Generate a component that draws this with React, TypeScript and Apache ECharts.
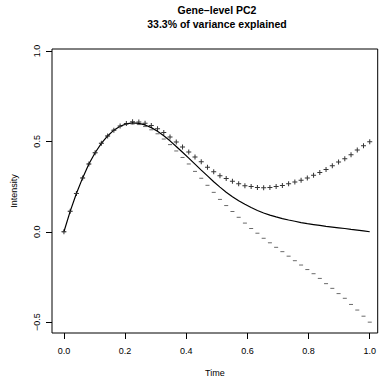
import React, { useEffect, useRef } from "react";
import * as echarts from "echarts";

const times = [0, 0.0204, 0.0408, 0.0612, 0.0816, 0.102, 0.1224, 0.1429, 0.1633, 0.1837, 0.2041, 0.2245, 0.2449, 0.2653, 0.2857, 0.3061, 0.3265, 0.3469, 0.3673, 0.3878, 0.4082, 0.4286, 0.449, 0.4694, 0.4898, 0.5102, 0.5306, 0.551, 0.5714, 0.5918, 0.6122, 0.6327, 0.6531, 0.6735, 0.6939, 0.7143, 0.7347, 0.7551, 0.7755, 0.7959, 0.8163, 0.8367, 0.8571, 0.8776, 0.898, 0.9184, 0.9388, 0.9592, 0.9796, 1.0];

const meanCurve = [0, 0.113, 0.212, 0.298, 0.375, 0.437, 0.489, 0.53, 0.562, 0.584, 0.597, 0.602, 0.6, 0.591, 0.576, 0.556, 0.531, 0.503, 0.472, 0.44, 0.407, 0.374, 0.341, 0.309, 0.277, 0.247, 0.219, 0.194, 0.172, 0.152, 0.134, 0.118, 0.104, 0.092, 0.082, 0.073, 0.065, 0.058, 0.051, 0.045, 0.04, 0.035, 0.03, 0.026, 0.022, 0.018, 0.013, 0.009, 0.005, 0.0];

const plusCurve = [0, 0.113, 0.212, 0.298, 0.375, 0.437, 0.489, 0.53, 0.562, 0.585, 0.599, 0.608, 0.607, 0.6, 0.588, 0.57, 0.549, 0.524, 0.497, 0.469, 0.441, 0.414, 0.387, 0.357, 0.332, 0.31, 0.294, 0.279, 0.266, 0.255, 0.25, 0.245, 0.244, 0.245, 0.25, 0.256, 0.265, 0.275, 0.285, 0.298, 0.312, 0.328, 0.344, 0.365, 0.386, 0.404, 0.426, 0.452, 0.476, 0.498];

const minusCurve = [0, 0.113, 0.212, 0.298, 0.375, 0.437, 0.489, 0.53, 0.562, 0.583, 0.595, 0.596, 0.593, 0.582, 0.564, 0.542, 0.513, 0.482, 0.447, 0.411, 0.375, 0.334, 0.296, 0.257, 0.218, 0.179, 0.145, 0.112, 0.08, 0.048, 0.018, -0.008, -0.036, -0.061, -0.086, -0.11, -0.135, -0.16, -0.184, -0.209, -0.232, -0.258, -0.287, -0.313, -0.342, -0.368, -0.402, -0.433, -0.467, -0.5];

const xTicks = [0, 0.2, 0.4, 0.6, 0.8, 1.0];
const yTicks = [-0.5, 0, 0.5, 1.0];

const titleLines = ["Gene\u2013level PC2", "33.3% of variance explained"];
const xName = "Time";
const yName = "Intensity";

const FONT = "'Liberation Sans', Arial, Helvetica, sans-serif";

const fmt = (v: number) => {
  const s = Number(v).toFixed(1);
  return s.startsWith("-") ? "\u2212" + s.slice(1) : s;
};

export default function App() {
  const ref = useRef<HTMLDivElement>(null);
  useEffect(() => {
    if (!ref.current) return;
    const chart = echarts.init(ref.current, null, { renderer: "svg" });
    const option: any = {
      animation: false,
      backgroundColor: "#ffffff",
      textStyle: { fontFamily: FONT },
      graphic: [
        {
          type: "text",
          x: 217,
          y: 10,
          style: {
            text: titleLines[0],
            fontFamily: FONT,
            fontSize: 10.5,
            fontWeight: "bold",
            fill: "#000",
            textAlign: "center",
            textVerticalAlign: "middle",
          },
        },
        {
          type: "text",
          x: 217,
          y: 24,
          style: {
            text: titleLines[1],
            fontFamily: FONT,
            fontSize: 10.5,
            fontWeight: "bold",
            fill: "#000",
            textAlign: "center",
            textVerticalAlign: "middle",
          },
        },
      ],
      grid: {
        left: 52,
        top: 49,
        right: 0,
        bottom: 46,
        containLabel: false,
        show: true,
        borderColor: "#000",
        borderWidth: 1,
        backgroundColor: "transparent",
      },
      xAxis: {
        type: "value",
        position: "bottom",
        min: -0.039,
        max: 1.026,
        name: xName,
        nameLocation: "middle",
        nameGap: 35,
        nameTextStyle: { fontFamily: FONT, fontSize: 9, color: "#000" },
        axisLine: { show: false, onZero: false },
        splitLine: { show: false },
        axisTick: {
          show: true,
          length: 6,
          customValues: xTicks,
          lineStyle: { color: "#000", width: 1 },
        },
        axisLabel: {
          customValues: xTicks,
          formatter: fmt,
          fontFamily: FONT,
          fontSize: 9,
          color: "#000",
          margin: 13,
        },
      },
      yAxis: {
        type: "value",
        position: "left",
        min: -0.56,
        max: 1.011,
        name: yName,
        nameLocation: "middle",
        nameGap: 34,
        nameRotate: 90,
        nameTextStyle: { fontFamily: FONT, fontSize: 9, color: "#000" },
        axisLine: { show: false, onZero: false },
        splitLine: { show: false },
        axisTick: {
          show: true,
          length: 6,
          customValues: yTicks,
          lineStyle: { color: "#000", width: 1 },
        },
        axisLabel: {
          customValues: yTicks,
          formatter: fmt,
          rotate: 90,
          fontFamily: FONT,
          fontSize: 9,
          color: "#000",
          margin: 11,
        },
      },
      series: [
        {
          type: "line",
          data: times.map((t, i) => [t, meanCurve[i]]),
          showSymbol: false,
          lineStyle: { color: "#000", width: 1.2 },
          z: 2,
        },
        {
          type: "scatter",
          data: times.map((t, i) => [t, plusCurve[i]]),
          symbol: "path://M2,0H3V2H5V3H3V5H2V3H0V2H2Z",
          symbolSize: 5,
          itemStyle: { color: "#000" },
          z: 3,
        },
        {
          type: "scatter",
          data: times.map((t, i) => [t, minusCurve[i]]),
          symbol: "rect",
          symbolSize: [4, 1],
          itemStyle: { color: "#444" },
          z: 3,
        },
      ],
    };
    chart.setOption(option);
    return () => chart.dispose();
  }, []);
  return (
    <div
      ref={ref}
      style={{ position: "absolute", left: 0, top: 0, width: 379, height: 382 }}
    />
  );
}
